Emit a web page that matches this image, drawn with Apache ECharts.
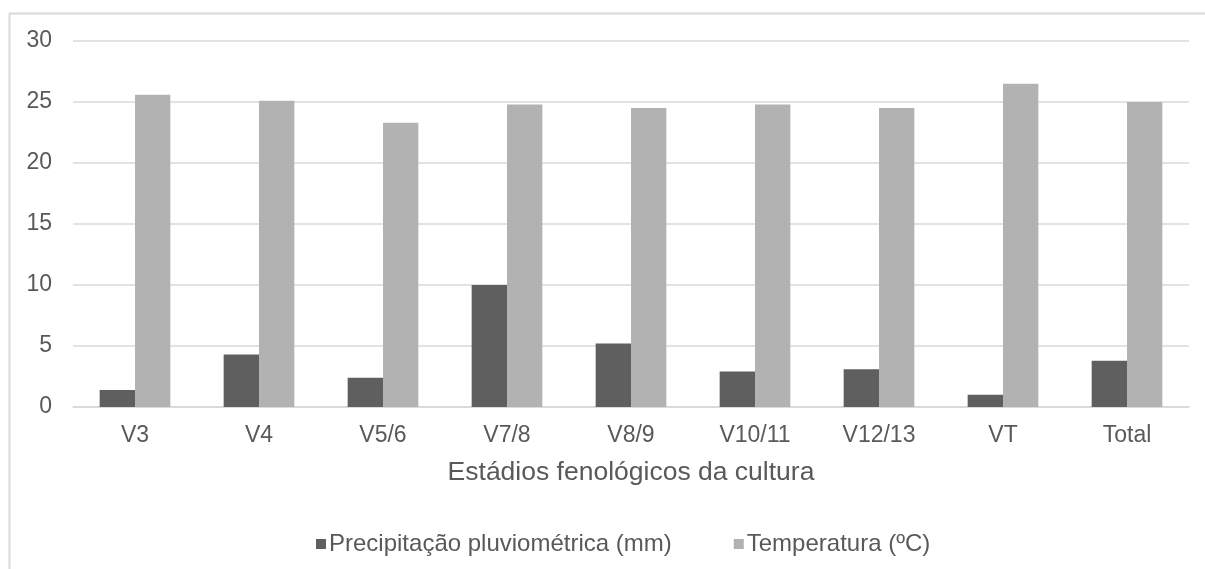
<!DOCTYPE html>
<html>
<head>
<meta charset="utf-8">
<script src="https://cdn.jsdelivr.net/npm/echarts@6/dist/echarts.min.js"></script>
<style>
  html, body { margin: 0; padding: 0; background: #ffffff; }
  #chart { width: 1205px; height: 569px; }
</style>
</head>
<body>
<div id="chart"></div>
<script>
// Growth stages of the crop
const stages = ['V3', 'V4', 'V5/6', 'V7/8', 'V8/9', 'V10/11', 'V12/13', 'VT', 'Total'];
// Rainfall (mm) per stage
const precipitacao = [1.4, 4.3, 2.4, 10.0, 5.2, 2.9, 3.1, 1.0, 3.8];
// Mean temperature (ºC) per stage
const temperatura = [25.6, 25.1, 23.3, 24.8, 24.5, 24.8, 24.5, 26.5, 25.0];
// Value axis ticks
const yTicks = [0, 5, 10, 15, 20, 25, 30];

const seriesNames = ['Precipitação pluviométrica (mm)', 'Temperatura (ºC)'];
const textColor = '#595959';
const lineColor = '#d9d9d9';
const fontFamily = '"Liberation Sans", Arial, sans-serif';

const chart = echarts.init(document.getElementById('chart'), null, { renderer: 'canvas' });

chart.setOption({
  animation: false,
  backgroundColor: '#ffffff',
  textStyle: { fontFamily: fontFamily },
  grid: { left: 73, right: 16, top: 41, bottom: 162, containLabel: false },
  legend: {
    data: seriesNames,
    left: 311,
    top: 527,
    icon: 'rect',
    itemWidth: 10,
    itemHeight: 10,
    itemGap: 62,
    textStyle: { color: textColor, fontSize: 24, fontFamily: fontFamily, padding: [0, 0, 0, -2] }
  },
  xAxis: {
    type: 'category',
    data: stages,
    name: 'Estádios fenológicos da cultura',
    nameLocation: 'middle',
    nameGap: 52,
    nameTextStyle: { color: textColor, fontSize: 26.5, fontFamily: fontFamily },
    axisLine: { show: true, lineStyle: { color: lineColor, width: 1.5 } },
    axisTick: { show: false },
    axisLabel: { color: textColor, fontSize: 23, margin: 17, fontFamily: fontFamily },
    splitLine: { show: false }
  },
  yAxis: {
    type: 'value',
    min: yTicks[0],
    max: yTicks[yTicks.length - 1],
    interval: yTicks[1] - yTicks[0],
    axisLine: { show: false },
    axisTick: { show: false },
    axisLabel: { color: textColor, fontSize: 23, margin: 21, fontFamily: fontFamily },
    splitLine: { show: true, lineStyle: { color: lineColor, width: 1.5 } }
  },
  graphic: [
    {
      type: 'rect',
      left: 7,
      top: 11,
      shape: { x: 0, y: 0, width: 1300, height: 700 },
      style: { fill: 'none', stroke: lineColor, lineWidth: 2 },
      silent: true
    }
  ],
  series: [
    {
      name: seriesNames[0],
      type: 'bar',
      data: precipitacao,
      barGap: '0%',
      barCategoryGap: '43%',
      itemStyle: { color: '#5f5f5f' }
    },
    {
      name: seriesNames[1],
      type: 'bar',
      data: temperatura,
      barGap: '0%',
      barCategoryGap: '43%',
      itemStyle: { color: '#b2b2b2' }
    }
  ]
});
</script>
</body>
</html>
